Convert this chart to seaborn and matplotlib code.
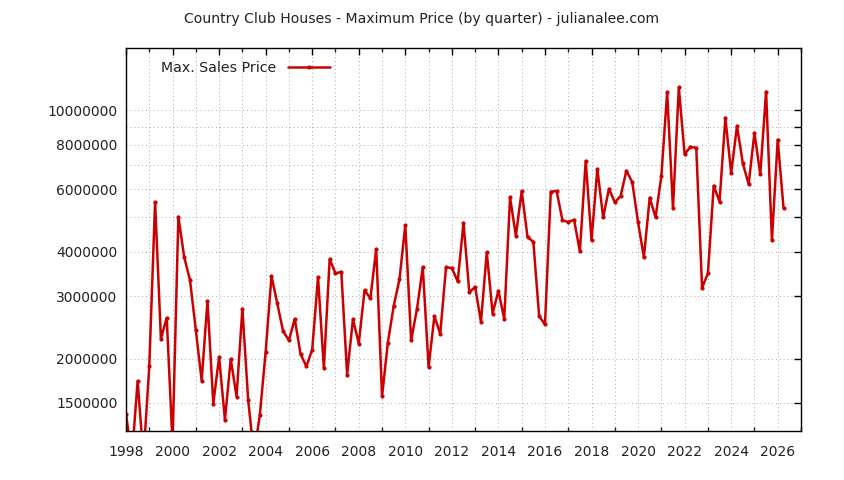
import numpy as np
import pandas as pd
import matplotlib
matplotlib.use("Agg")
import matplotlib.pyplot as plt
import seaborn as sns

start_year = 1998.0
prices = [
    1399000, 1050000, 1729000, 1050000, 1902000, 5524000, 2277000, 2604000,
    1150000, 5020000, 3864000, 3327000, 2404000, 1733000, 2902000, 1493000,
    2021000, 1345000, 1995000, 1562000, 2761000, 1525000, 1070000, 1390000,
    2087000, 3415000, 2859000, 2388000, 2252000, 2587000, 2056000, 1902000,
    2120000, 3393000, 1881000, 3814000, 3475000, 3512000, 1802000, 2582000,
    2204000, 3117000, 2954000, 4070000, 1565000, 2219000, 2809000, 3349000,
    4756000, 2252000, 2755000, 3620000, 1893000, 2633000, 2347000, 3620000,
    3597000, 3298000, 4828000, 3071000, 3185000, 2537000, 3984000, 2679000,
    3103000, 2587000, 5694000, 4438000, 5932000, 4400000, 4268000, 2633000,
    2495000, 5905000, 5932000, 4905000, 4850000, 4920000, 4009000, 7210000,
    4307000, 6845000, 5000000, 6020000, 5510000, 5743000, 6770000, 6280000,
    4840000, 3856000, 5680000, 5000000, 6540000, 11240000, 5300000, 11610000,
    7530000, 7900000, 7850000, 3165000, 3475000, 6140000, 5535000, 9540000,
    6660000, 9050000, 7100000, 6200000, 8650000, 6610000, 11310000, 4307000,
    8280000, 5310000,
]
quarters = [start_year + 0.25 * i for i in range(len(prices))]

y_ticks = [1500000, 2000000, 3000000, 4000000, 5000000, 6000000, 7000000,
           8000000, 9000000, 10000000]
y_tick_labels = ["1500000", "2000000", "3000000", "4000000", "", "6000000", "",
                 "8000000", "", "10000000"]
x_major = list(range(1998, 2028, 2))
x_minor = list(range(1998, 2028, 1))

title = "Country Club Houses - Maximum Price (by quarter) - julianalee.com"
series_name = "Max. Sales Price"

df = pd.DataFrame({"year": quarters, "price": prices, "series": series_name})

sns.set_theme(style="white")
plt.rcParams["font.family"] = ["DejaVu Sans"]

fig = plt.figure(figsize=(8.44, 4.80), dpi=100)
ax = fig.add_axes([126 / 844, 1 - 431 / 480, (801 - 126) / 844, (431 - 48) / 480])

sns.lineplot(data=df, x="year", y="price", hue="series", palette=["#cc0000"],
             marker="o", markersize=3.0, markeredgewidth=0, linewidth=1.8,
             ax=ax, clip_on=True)

ax.set_yscale("log")
ax.set_xlim(1998, 2027)
ax.set_ylim(1250000, 15000000)

ax.set_yticks(y_ticks)
ax.set_yticklabels(y_tick_labels)
ax.yaxis.set_minor_locator(matplotlib.ticker.NullLocator())
ax.set_xticks(x_major)
ax.set_xticklabels([str(v) for v in x_major])
ax.set_xticks(x_minor, minor=True)

ax.grid(True, which="major", axis="both", color="#a8a8a8", linestyle=(0, (1, 3)), linewidth=0.7)
ax.grid(True, which="minor", axis="x", color="#a8a8a8", linestyle=(0, (1, 3)), linewidth=0.7)

ax.tick_params(axis="both", which="major", direction="in", length=5, width=1,
               top=True, right=True, labelsize=10, colors="black", pad=6)
ax.tick_params(axis="x", which="major", pad=10)
ax.tick_params(axis="x", which="minor", direction="in", length=3, width=1,
               top=True, bottom=True)
ax.tick_params(axis="y", which="major", labelcolor="#222222")
ax.tick_params(axis="x", which="major", labelcolor="#222222")
for s in ax.spines.values():
    s.set_visible(True)
    s.set_color("black")
    s.set_linewidth(1)

ax.set_xlabel("")
ax.set_ylabel("")

fig.suptitle(title, y=1 - 19 / 480, va="center", fontsize=10.1, color="#222222")

leg = ax.legend(loc="upper left", bbox_to_anchor=(0.033, 1.0), frameon=False,
                markerfirst=False, fontsize=10.2, handlelength=3.0, handletextpad=0.8,
                borderaxespad=0.5)
for t in leg.get_texts():
    t.set_color("#222222")

fig.savefig("out.png", dpi=100, facecolor="white")
